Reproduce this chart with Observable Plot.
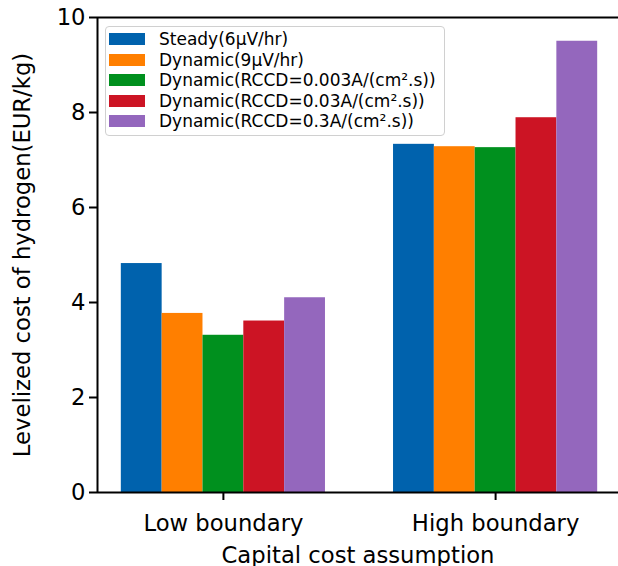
<!DOCTYPE html>
<html>
<head>
<meta charset="utf-8">
<script src="https://cdn.jsdelivr.net/npm/d3@7"></script>
<script src="https://cdn.jsdelivr.net/npm/@observablehq/plot@0.6"></script>
<style>
  body { margin: 0; background: #fff; font-family: "DejaVu Sans", sans-serif; }
  #wrap { position: relative; width: 618px; height: 566px; overflow: hidden; }
  #legend {
    position: absolute; left: 105px; top: 26px;
    border: 1.5px solid #d0d0d0; border-radius: 4px; background: rgba(255,255,255,0.85);
    padding: 2px 8px 3px 3px; font-size: 17px; color: #000;
  }
  .item { display: flex; align-items: center; height: 20.5px; white-space: nowrap; }
  .sw { width: 36px; height: 12px; margin-right: 14px; }
</style>
</head>
<body>
<div id="wrap"></div>
<script>
const categories = ["Low boundary", "High boundary"];
const series = [
  "Steady(6μV/hr)",
  "Dynamic(9μV/hr)",
  "Dynamic(RCCD=0.003A/(cm².s))",
  "Dynamic(RCCD=0.03A/(cm².s))",
  "Dynamic(RCCD=0.3A/(cm².s))"
];
const lowValues = [4.82, 3.77, 3.31, 3.61, 4.10];
const highValues = [7.33, 7.28, 7.26, 7.89, 9.50];
const colors = ["#0062AD", "#FF7F00", "#00901E", "#CC1424", "#9467BD"];
const yTicks = [0, 2, 4, 6, 8, 10];
const xLabel = "Capital cost assumption";
const yLabel = "Levelized cost of hydrogen(EUR/kg)";

const barWidth = 0.15;
const valuesByCat = [lowValues, highValues];
const rows = [];
categories.forEach((c, i) => {
  series.forEach((s, j) => {
    const center = i + (j - (series.length - 1) / 2) * barWidth;
    rows.push({cat: c, series: s, x1: center - barWidth / 2, x2: center + barWidth / 2, value: valuesByCat[i][j]});
  });
});
const half = series.length * barWidth / 2;
const span = (categories.length - 1) + 2 * half;
const xDomain = [-half - 0.05 * span, categories.length - 1 + half + 0.05 * span];
const yDomain = [0, 10];

const chart = Plot.plot({
  width: 618,
  height: 566,
  marginLeft: 97,
  marginRight: 0,
  marginTop: 17,
  marginBottom: 74,
  style: {fontFamily: "DejaVu Sans, sans-serif", fontSize: "22.7px", color: "#000", background: "#fff"},
  x: {domain: xDomain, range: [97, 621]},
  y: {domain: yDomain},
  color: {domain: series, range: colors},
  marks: [
    Plot.rectY(rows, {x1: "x1", x2: "x2", y: "value", fill: "series", insetLeft: 0, insetRight: 0}),
    Plot.ruleY(yDomain, {stroke: "#000", strokeWidth: 2}),
    Plot.ruleX([xDomain[0]], {stroke: "#000", strokeWidth: 2}),
    Plot.axisY({ticks: yTicks, tickSize: 8, tickPadding: 4, fontSize: 22.7, strokeWidth: 2,
      label: yLabel, labelAnchor: "center", labelArrow: "none", labelOffset: 84}),
    Plot.axisX({ticks: categories.map((_, i) => i), tickFormat: i => categories[i], tickSize: 8, tickPadding: 14,
      fontSize: 22.7, strokeWidth: 2, label: xLabel, labelAnchor: "center", labelArrow: "none", labelOffset: 70})
  ]
});
const wrap = document.getElementById("wrap");
wrap.appendChild(chart);

const legend = document.createElement("div");
legend.id = "legend";
series.forEach((s, j) => {
  const it = document.createElement("div");
  it.className = "item";
  const sw = document.createElement("div");
  sw.className = "sw";
  sw.style.background = colors[j];
  const tx = document.createElement("span");
  tx.textContent = s;
  it.appendChild(sw);
  it.appendChild(tx);
  legend.appendChild(it);
});
wrap.appendChild(legend);
</script>
</body>
</html>
